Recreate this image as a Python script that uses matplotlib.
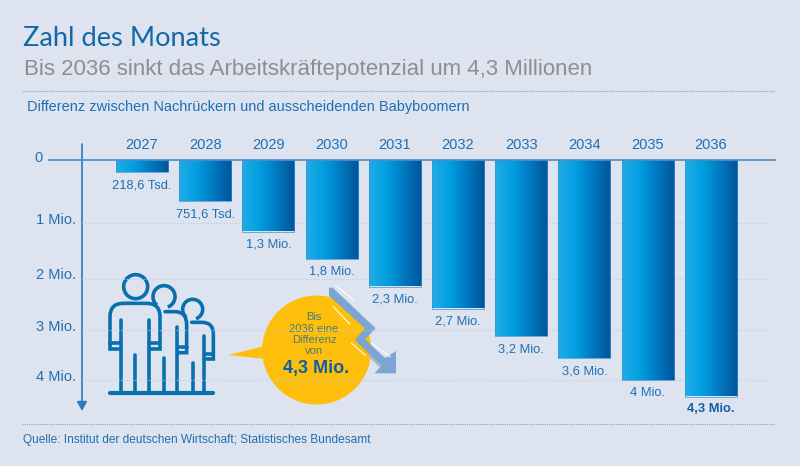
import numpy as np
import matplotlib
matplotlib.use('Agg')
import matplotlib.pyplot as plt
from matplotlib.colors import LinearSegmentedColormap
from matplotlib.patches import Circle, Polygon, Arc
from matplotlib.path import Path
from matplotlib.patches import PathPatch

years = ['2027', '2028', '2029', '2030', '2031', '2032', '2033', '2034', '2035', '2036']
values = [0.2186, 0.7516, 1.3, 1.8, 2.3, 2.7, 3.2, 3.6, 4.0, 4.3]
value_labels = ['218,6 Tsd.', '751,6 Tsd.', '1,3 Mio.', '1,8 Mio.', '2,3 Mio.',
                '2,7 Mio.', '3,2 Mio.', '3,6 Mio.', '4 Mio.', '4,3 Mio.']
tick_labels = ['0', '1 Mio.', '2 Mio.', '3 Mio.', '4 Mio.']
# the grid in the original is not evenly spaced
grid_values = [1.14, 2.17, 3.09, 4.0]

BG = '#dde4ef'
BLUE = '#1f6fb2'
DARK = '#0f5ea8'
ICON = '#0a6fae'
LINE = '#4b8cc4'

plt.rcParams['font.family'] = ['Liberation Sans', 'DejaVu Sans']

fig = plt.figure(figsize=(8, 4.66), dpi=100, facecolor=BG)

# overlay in pixel coordinates for the decoration
ov = fig.add_axes([0, 0, 1, 1], zorder=1)
ov.set_xlim(0, 800)
ov.set_ylim(466, 0)
ov.axis('off')

# data axes: year index on x, million on y (downwards)
ax = fig.add_axes([0, 0, 1, 1], zorder=2)
ax.patch.set_alpha(0)
x0, dx = 142, 63.2
y0, dy = 160, 55.0
ax.set_xlim((0 - x0) / dx, (800 - x0) / dx)
ax.set_ylim((466 - y0) / dy, (0 - y0) / dy)
ax.axis('off')

# Titles
ov.text(23, 46, 'Zahl des Monats', color='#1667a8', fontsize=19.6, family='Lato', va='baseline')
ov.text(24, 75, 'Bis 2036 sinkt das Arbeitskräftepotenzial um 4,3 Millionen',
        color='#8c8f92', fontsize=16.05, va='baseline')
ov.plot([22, 775], [91, 91], color='#9a9fa6', lw=0.8, ls=(0, (1, 1)))
ov.text(27, 111, 'Differenz zwischen Nachrückern und ausscheidenden Babyboomern',
        color=BLUE, fontsize=10.45, va='baseline')
ov.plot([22, 775], [424, 424], color='#9a9fa6', lw=0.8, ls=(0, (1, 1)))
ov.text(23, 442.5, 'Quelle: Institut der deutschen Wirtschaft; Statistisches Bundesamt',
        color=BLUE, fontsize=8.6, va='baseline')

# grid
for g in grid_values:
    ax.plot([(82 - x0) / dx, (770 - x0) / dx], [g, g], color='#bccde2', lw=0.8, ls=(0, (1, 1.5)), zorder=1)

# Axes lines
ax.plot([(49 - x0) / dx, (775 - x0) / dx], [0, 0], color=LINE, lw=1.2, zorder=4)
ov.annotate('', xy=(82, 411), xytext=(82, 144),
            arrowprops=dict(arrowstyle='-|>,head_width=0.3,head_length=0.55', color='#2f78b6',
                            lw=1.2, shrinkA=0, shrinkB=0))
tick_y = [158, 220, 275, 327, 377]
tick_x = [43, 76, 76, 76, 76]
for t, x, y in zip(tick_labels, tick_x, tick_y):
    ov.text(x, y, t, ha='right', va='center', color=BLUE, fontsize=10.5)

# Bars with horizontal gradient
cmap = LinearSegmentedColormap.from_list('bar', ['#22ace8', '#019fe0', '#0078bf', '#00549b'])
grad = np.linspace(0, 1, 128).reshape(1, -1)
bars = ax.bar(range(len(values)), values, width=0.823, bottom=0, facecolor='none',
              edgecolor='#3f8fd0', lw=0.5, zorder=3)
for b in bars:
    im = ax.imshow(grad, cmap=cmap, aspect='auto', zorder=2.5,
                   extent=(b.get_x(), b.get_x() + b.get_width(), b.get_height(), 0))
    im.set_clip_path(b)
ax.set_xlim((0 - x0) / dx, (800 - x0) / dx)
ax.set_ylim((466 - y0) / dy, (0 - y0) / dy)

for i, (y, v, lab) in enumerate(zip(years, values, value_labels)):
    ax.text(i, -0.27, y, ha='center', va='center', color=BLUE, fontsize=10.5)
    last = i == len(values) - 1
    ax.text(i, v + (13 / dy), lab, ha='center', va='center', fontsize=9.3,
            color=DARK if last else BLUE, fontweight='bold' if last else 'normal')


# People icon, in zoomed crop units of the source graphic
def zx(v):
    return 60 + v / 3


def zy(v):
    return 250 + v / 3


def stroke(points, lw=2.6):
    ov.plot([zx(p[0]) for p in points], [zy(p[1]) for p in points], color=ICON, lw=lw,
            solid_capstyle='round', solid_joinstyle='round')


def curve(verts, codes, lw=2.6):
    v = [(zx(a), zy(b)) for a, b in verts]
    ov.add_patch(PathPatch(Path(v, codes), fc='none', ec=ICON, lw=lw, capstyle='round'))


M, L, C = Path.MOVETO, Path.LINETO, Path.CURVE3

ov.add_patch(Circle((zx(227), zy(110)), 12, fc='none', ec=ICON, lw=2.6))
curve([(183, 297), (150, 297), (150, 200), (150, 160), (190, 160), (260, 160), (300, 160), (300, 200),
       (300, 297), (268, 297)], [M, L, L, C, C, L, C, C, L, L])
stroke([(150, 278), (183, 278)])
stroke([(268, 278), (300, 278)])
stroke([(183, 210), (183, 430)])
stroke([(268, 210), (268, 430)])
stroke([(226, 315), (226, 430)])

ov.add_patch(Arc((zx(312), zy(140)), 22, 22, theta1=-230, theta2=70, ec=ICON, lw=2.6))
curve([(315, 185), (345, 185), (380, 185), (380, 225), (380, 308), (352, 308)], [M, L, C, C, L, L])
stroke([(355, 292), (380, 292)])
stroke([(350, 230), (350, 430)])
stroke([(312, 325), (312, 430)])

ov.add_patch(Arc((zx(398), zy(178)), 20, 20, theta1=-230, theta2=70, ec=ICON, lw=2.6))
curve([(395, 217), (425, 217), (460, 217), (460, 252), (460, 327), (432, 327)], [M, L, C, C, L, L])
stroke([(438, 313), (460, 313)])
stroke([(432, 258), (432, 430)])
stroke([(398, 340), (398, 430)])
stroke([(150, 430), (460, 430)], lw=3)

# Speech bubble
gold = '#fdbf0b'
ov.add_patch(Circle((zx(770), zy(300)), 54.5, fc=gold, ec='none', zorder=3))
ov.add_patch(Polygon([(zx(505), zy(315)), (zx(615), zy(288)), (zx(615), zy(327))], fc=gold, ec='none', zorder=3))


# zigzag arrow, in units of a closer crop
def ap(pts):
    return [(310 + a / 3, 275 + b / 3) for a, b in pts]


ov.add_patch(Polygon(ap([(57, 62), (165, 160), (135, 195), (183, 245), (183, 215), (165, 193), (172, 150), (60, 45)]),
                     fc='#dba600', ec='none', zorder=3.5))
ov.add_patch(Polygon(ap([(195, 225), (235, 255), (210, 278), (175, 245)]), fc='#b3b8c0', ec='none', zorder=3.5))
ov.add_patch(Polygon(ap([(57, 38), (68, 38), (197, 160), (165, 193), (225, 250), (258, 228), (258, 295),
                         (193, 295), (215, 272), (135, 195), (165, 160), (57, 62)]),
                     fc='#7aa5d4', ec='none', zorder=4))
for seg in ([(80, 33), (133, 78)], [(70, 95), (120, 148)], [(125, 205), (165, 240)], [(185, 205), (240, 245)]):
    s = ap(seg)
    ov.plot([p[0] for p in s], [p[1] for p in s], color='white', lw=0.8, zorder=5)

for t, yy in zip(['Bis', '2036 eine', 'Differenz', 'von'], [317, 328.5, 340, 351]):
    ov.text(314, yy, t, ha='center', va='center', fontsize=8, color='#4c7a78', zorder=6)
ov.text(316, 368, '4,3 Mio.', ha='center', va='center', fontsize=13, fontweight='bold',
        color='#0f5ea8', zorder=6)

fig.savefig('out.png', dpi=100, facecolor=BG)
